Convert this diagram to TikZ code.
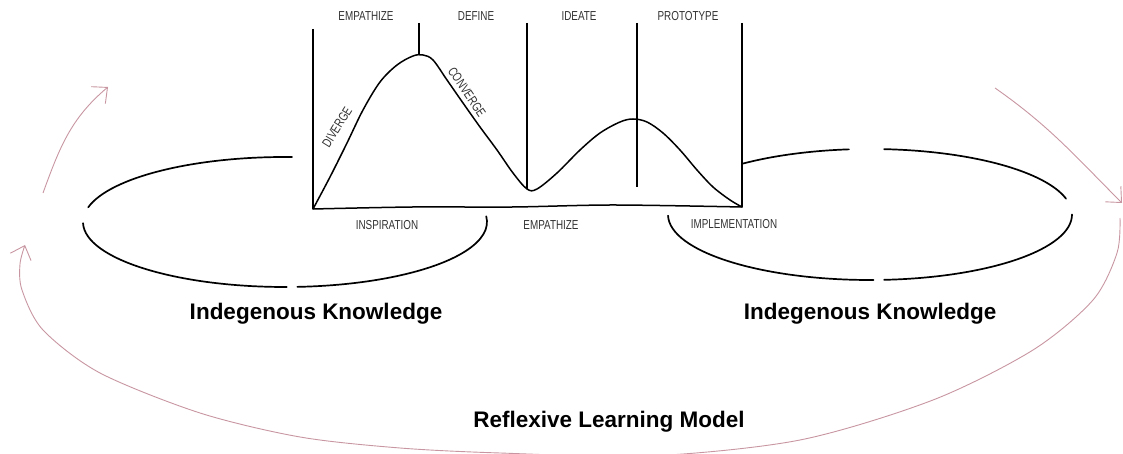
\documentclass[tikz,border=0pt]{standalone}
\usepackage{fontspec}
\setmainfont{Liberation Sans}
\usepackage{tikz}
\usetikzlibrary{arrows.meta}
\definecolor{reflectrose}{RGB}{200,150,162}
\definecolor{labelgray}{RGB}{50,50,50}

\begin{document}
\begin{tikzpicture}[x=1pt, y=1pt,
    stage/.style={font=\fontsize{13}{15}\selectfont, text=labelgray, xscale=0.76, anchor=base, inner sep=0pt},
    title/.style={font=\fontsize{22.5}{26}\selectfont\bfseries, anchor=base, inner sep=0pt},
    divider/.style={line width=1.4pt},
    sketch/.style={line width=1.5pt, line cap=round, line join=round},
    ring/.style={line width=1.7pt, line cap=round},
    reflect/.style={draw=reflectrose, line width=0.9pt, -{Straight Barb[length=12pt, width=22pt]}}]
    \useasboundingbox (0,0) rectangle (1123,454);

    % Process frame
    \coordinate (frameSW) at (313,245);
    \coordinate (frameSE) at (742,247);
    \draw[divider] (313,425) -- (frameSW);
    \draw[divider] (419,431) -- (419,399);
    \draw[divider] (527,431) -- (527,265);
    \draw[divider] (637,431) -- (637,267);
    \draw[divider] (742,431) -- (frameSE);

    % Ground line
    \draw[sketch] plot[smooth] coordinates {(313,245) (413,247) (513,247) (613,249) (742,247)};

    % Diverge / converge curve
    \draw[sketch] plot[smooth, tension=0.55] coordinates {
        (313,245) (330,277) (347,311) (363,344) (380,372) (397,389) (413,398)
        (423,399) (433,394) (447,374) (463,351) (480,327) (497,304) (513,281)
        (527,265) (537,265) (557,281) (580,304) (600,321) (620,332) (633,335)
        (647,332) (663,321) (680,304) (697,284) (713,267) (730,254) (742,247)};

    % Stages
    \node[stage] (empathize) at (366,433) {EMPATHIZE};
    \node[stage] (define) at (476,433) {DEFINE};
    \node[stage] (ideate) at (579,433) {IDEATE};
    \node[stage] (prototype) at (688,433) {PROTOTYPE};
    \node[rotate=58, stage, anchor=center] (diverge) at (337,327) {DIVERGE};
    \node[rotate=-56, stage, anchor=center] (converge) at (467,362) {CONVERGE};

    \node[stage] (inspiration) at (387,224) {INSPIRATION};
    \node[stage] (empathizeBase) at (551,224) {EMPATHIZE};
    \node[stage] (implementation) at (734,225) {IMPLEMENTATION};

    % Knowledge rings
    \coordinate (leftRing) at (285,232);
    \coordinate (rightRing) at (870,239.5);
    \draw[ring] (leftRing) ++(88:202 and 65) arc[start angle=88, end angle=167, x radius=202, y radius=65];
    \draw[ring] (leftRing) ++(181:202 and 65) arc[start angle=181, end angle=270.5, x radius=202, y radius=65];
    \draw[ring] (leftRing) ++(273.5:202 and 65) arc[start angle=273.5, end angle=365, x radius=202, y radius=65];

    \draw[ring] (rightRing) ++(129:202 and 65.5) arc[start angle=129, end angle=96, x radius=202, y radius=65.5];
    \draw[ring] (rightRing) ++(86:202 and 65.5) arc[start angle=86, end angle=14, x radius=202, y radius=65.5];
    \draw[ring] (rightRing) ++(0:202 and 65.5) arc[start angle=0, end angle=-86, x radius=202, y radius=65.5];
    \draw[ring] (rightRing) ++(271:202 and 65.5) arc[start angle=271, end angle=181, x radius=202, y radius=65.5];

    \node[title] (knowLeft) at (316,134) {Indegenous Knowledge};
    \node[title] (knowRight) at (870,134) {Indegenous Knowledge};

    % Reflexive loop
    \coordinate (upLeftTail) at (43,261);
    \coordinate (upLeftTip) at (108,367);
    \coordinate (upRightTail) at (995,366);
    \coordinate (upRightTip) at (1122,251);
    \draw[reflect] (upLeftTail) to[out=70, in=220] (upLeftTip);
    \draw[reflect] (upRightTail) to[out=-35, in=135] (upRightTip);
    \draw[reflect] plot[smooth] coordinates {
        (1120,236) (1117,201) (1093,154) (1033,104) (933,54) (800,14) (650,-2)
        (500,1) (400,6) (300,17) (200,41) (100,81) (43,124) (22,164) (20,190) (25,209)};

    \node[title] (reflexive) at (609,26) {Reflexive Learning Model};
\end{tikzpicture}
\end{document}
